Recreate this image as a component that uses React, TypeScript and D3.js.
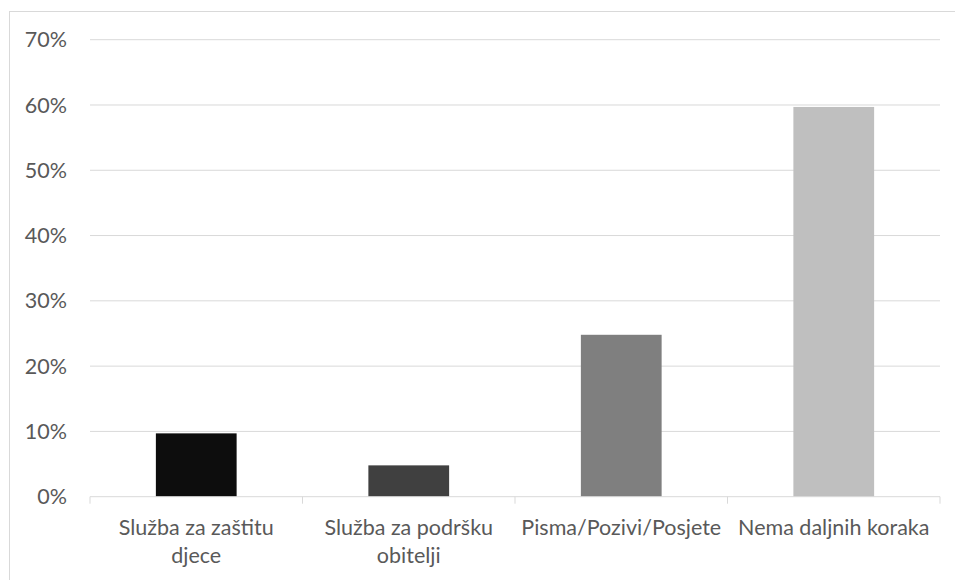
import React from "react";
import * as d3 from "d3";

const categories = ["Služba za zaštitu djece", "Služba za podršku obitelji", "Pisma/Pozivi/Posjete", "Nema daljnih koraka"];
const categoryLines = [["Služba za zaštitu", "djece"], ["Služba za podršku", "obitelji"], ["Pisma/Pozivi/Posjete"], ["Nema daljnih koraka"]];
const values = [0.097, 0.048, 0.248, 0.597];
const barColors = ["#0d0d0d", "#404040", "#7f7f7f", "#bfbfbf"];
const yTicks = [0, 0.1, 0.2, 0.3, 0.4, 0.5, 0.6, 0.7];

const W = 955, H = 580;
const left = 90, right = 940, top = 39.7, bottom = 496.7;
const font = "Lato, 'Open Sans', sans-serif";
const fs = 21.5;

export default function App() {
  const x = d3.scaleBand<string>().domain(categories).range([left, right]).padding(0);
  const y = d3.scaleLinear().domain([0, 0.7]).range([bottom, top]);
  const bw = x.bandwidth() * 0.38;
  const fmt = d3.format(".0%");
  return (
    <svg width={W} height={H} style={{ position: "absolute", left: 0, top: 0 }}>
      <rect x={0} y={0} width={W} height={H} fill="#fff" />
      <rect x={9.5} y={11.5} width={W} height={H} fill="none" stroke="#d9d9d9" strokeWidth={1} />
      {yTicks.map((t) => (
        <g key={t}>
          {t > 0 && <line x1={left} x2={right} y1={y(t)} y2={y(t)} stroke="#d9d9d9" strokeWidth={1} />}
          <text x={67} y={y(t)} dy="0.35em" textAnchor="end" fontFamily={font} fontSize={fs} fill="#595959">{fmt(t)}</text>
        </g>
      ))}
      {categories.map((c, i) => (
        <rect key={c} x={x(c)! + (x.bandwidth() - bw) / 2} y={y(values[i])} width={bw} height={y(0) - y(values[i])} fill={barColors[i]} />
      ))}
      <line x1={left} x2={right} y1={bottom} y2={bottom} stroke="#d9d9d9" strokeWidth={1} />
      {[...categories.map((c) => x(c)!), right].map((px, i) => (
        <line key={i} x1={px} x2={px} y1={bottom} y2={bottom + 7} stroke="#d9d9d9" strokeWidth={1} />
      ))}
      {categories.map((c, i) => (
        <text key={c} x={x(c)! + x.bandwidth() / 2} y={527} textAnchor="middle" fontFamily={font} fontSize={fs} fill="#595959">
          {categoryLines[i].map((l, j) => (
            <tspan key={j} x={x(c)! + x.bandwidth() / 2} y={527 + j * 28.5} dy="0.35em">{l}</tspan>
          ))}
        </text>
      ))}
    </svg>
  );
}
